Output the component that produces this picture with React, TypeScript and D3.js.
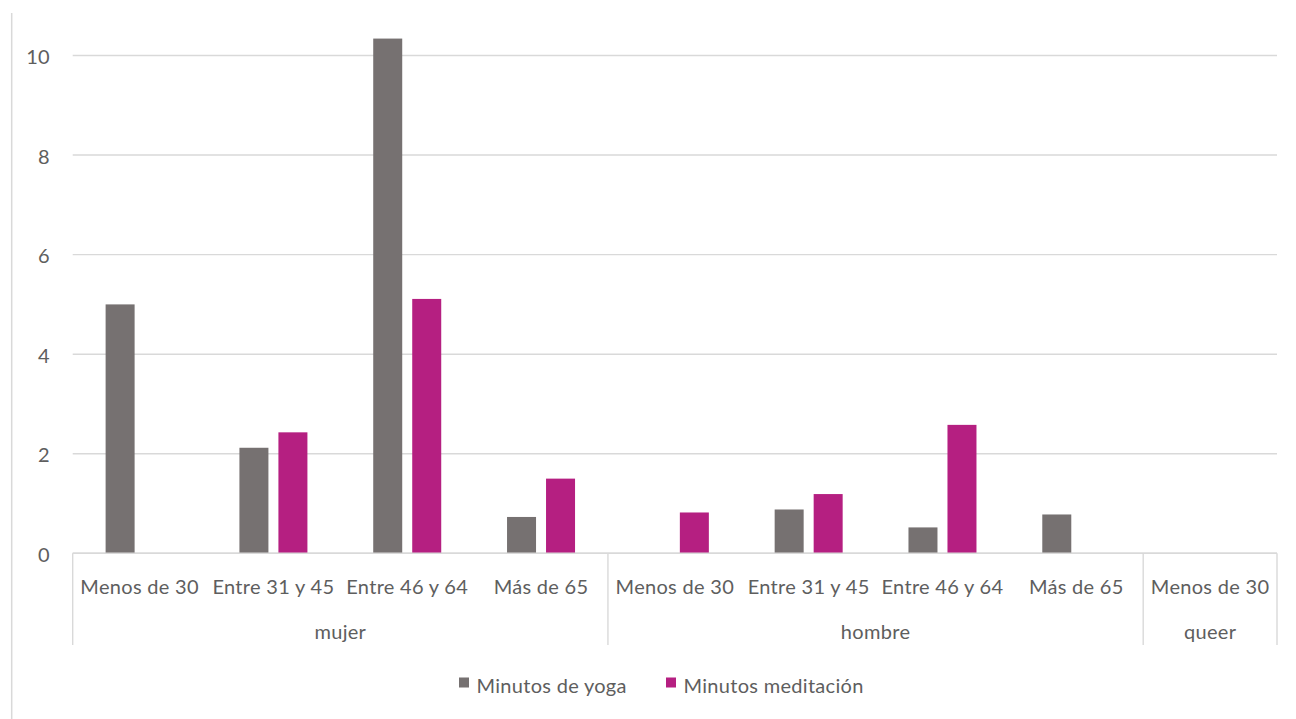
import React from "react";
import * as d3 from "d3";

// Inner categories (age bands) and their outer group (gender)
const ageBands = [
  "Menos de 30",
  "Entre 31 y 45",
  "Entre 46 y 64",
  "Más de 65",
  "Menos de 30",
  "Entre 31 y 45",
  "Entre 46 y 64",
  "Más de 65",
  "Menos de 30",
];
const genders = ["mujer", "mujer", "mujer", "mujer", "hombre", "hombre", "hombre", "hombre", "queer"];

const seriesNames = ["Minutos de yoga", "Minutos meditación"];
const yogaMinutes = [5.0, 2.12, 10.34, 0.73, 0, 0.88, 0.52, 0.78, 0];
const meditationMinutes = [0, 2.43, 5.11, 1.5, 0.82, 1.19, 2.58, 0, 0];
const yTicks = [0, 2, 4, 6, 8, 10];

const seriesColors = ["#767171", "#B51F81"];

const W = 1296;
const H = 719;
const FONT = "Lato, 'Open Sans', sans-serif";
const FS = 20;
const LS = 0.3;
const TEXT = "#5E5E5E";
const GRID = "#D9D9D9";

export default function App() {
  const plotLeft = 72.7;
  const plotRight = 1277;
  const yScale = d3.scaleLinear().domain([0, 10]).range([553.3, 55.5]);
  const idx = ageBands.map((_, i) => String(i));
  const xScale = d3.scaleBand().domain(idx).range([plotLeft, plotRight]).padding(0);
  const B = xScale.bandwidth();
  const barW = 29;
  const gap = 10;
  const step = barW + gap;
  const outer = (B / step - 2 + gap / step) / 2;
  const xSeries = d3
    .scaleBand()
    .domain(seriesNames)
    .range([0, B])
    .paddingInner(gap / step)
    .paddingOuter(outer);

  const values = [yogaMinutes, meditationMinutes];

  // Outer groups: contiguous runs of the same gender
  const groups: { name: string; start: number; end: number }[] = [];
  genders.forEach((g, i) => {
    const last = groups[groups.length - 1];
    if (last && last.name === g) last.end = i;
    else groups.push({ name: g, start: i, end: i });
  });

  const y0 = yScale(0);
  const boxBottom = 645;

  return (
    <svg width={W} height={H} style={{ position: "absolute", left: 0, top: 0, background: "#fff" }}>
      <rect x={0} y={0} width={W} height={H} fill="#fff" />
      {/* chart frame edge */}
      <line x1={11.7} x2={11.7} y1={13} y2={H} stroke={GRID} strokeWidth={1.5} />

      {/* gridlines */}
      {yTicks.map((t) => (
        <line key={"g" + t} x1={plotLeft} x2={plotRight} y1={yScale(t)} y2={yScale(t)} stroke={GRID} strokeWidth={1.4} />
      ))}

      {/* y tick labels */}
      {yTicks.map((t) => (
        <text
          key={"t" + t}
          x={50}
          y={yScale(t) + 3.5}
          textAnchor="end"
          dominantBaseline="middle"
          fontFamily={FONT}
          fontSize={FS}
          letterSpacing={LS}
          fill={TEXT}
        >
          {t}
        </text>
      ))}

      {/* bars */}
      {values.map((vals, s) =>
        vals.map((v, i) =>
          v > 0 ? (
            <rect
              key={s + "-" + i}
              x={(xScale(String(i)) as number) + (xSeries(seriesNames[s]) as number)}
              y={yScale(v)}
              width={xSeries.bandwidth()}
              height={y0 - yScale(v)}
              fill={seriesColors[s]}
            />
          ) : null
        )
      )}

      {/* category axis box */}
      <line x1={plotLeft} x2={plotRight} y1={y0} y2={y0} stroke={GRID} strokeWidth={1.4} />
      {[...groups.map((g) => xScale(String(g.start)) as number), plotRight].map((x, i) => (
        <line key={"sep" + i} x1={x} x2={x} y1={y0} y2={boxBottom} stroke={GRID} strokeWidth={1.4} />
      ))}

      {/* inner category labels */}
      {ageBands.map((a, i) => (
        <text
          key={"a" + i}
          x={(xScale(String(i)) as number) + B / 2}
          y={594}
          textAnchor="middle"
          fontFamily={FONT}
          fontSize={FS}
          letterSpacing={LS}
          fill={TEXT}
        >
          {a}
        </text>
      ))}

      {/* outer group labels */}
      {groups.map((g) => (
        <text
          key={"grp" + g.name}
          x={((xScale(String(g.start)) as number) + (xScale(String(g.end)) as number) + B) / 2}
          y={639}
          textAnchor="middle"
          fontFamily={FONT}
          fontSize={FS}
          letterSpacing={LS}
          fill={TEXT}
        >
          {g.name}
        </text>
      ))}

      {/* legend */}
      {seriesNames.map((n, s) => {
        const lx = [459, 666][s];
        return (
          <g key={"l" + s}>
            <rect x={lx} y={677.5} width={10} height={10} fill={seriesColors[s]} />
            <text x={lx + 17.5} y={693} fontFamily={FONT} fontSize={FS} letterSpacing={LS} fill={TEXT}>
              {n}
            </text>
          </g>
        );
      })}
    </svg>
  );
}
